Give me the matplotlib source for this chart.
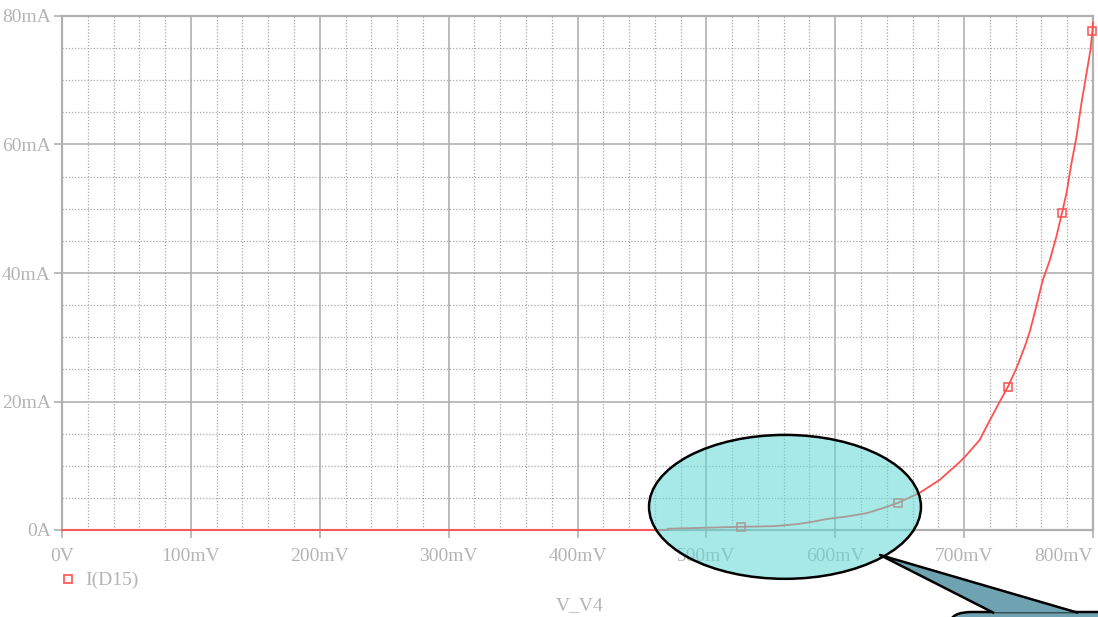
import matplotlib
matplotlib.use("Agg")
import matplotlib.pyplot as plt
from matplotlib.patches import Ellipse, Polygon, FancyBboxPatch
from matplotlib.ticker import MultipleLocator

# I(D15) vs V_V4 sweep, mV / mA
v_mV = [0, 470, 470, 527, 553, 570, 583, 593, 609, 624, 637, 649, 665.6, 681,
        696.7, 702, 712, 720, 727.7, 734, 740.6, 747, 751, 756, 761, 766.5,
        771.6, 776, 779.4, 783.3, 787.2, 791, 795, 798, 799.5, 800]
i_mA = [0, 0, 0.2, 0.5, 0.6, 0.9, 1.3, 1.7, 2.1, 2.6, 3.4, 4.25, 5.8, 7.8,
        10.6, 11.7, 14.0, 17.1, 20.0, 22.3, 25.2, 28.5, 30.9, 34.8, 38.9, 42.0,
        45.7, 49.4, 52.4, 57.1, 61.2, 66.4, 71.1, 74.7, 77.6, 79.0]
marker_idx = [3, 11, 19, 27, 34]

x_ticks = [0, 100, 200, 300, 400, 500, 600, 700, 800]
x_labels = ["0V", "100mV", "200mV", "300mV", "400mV", "500mV", "600mV", "700mV", "800mV"]
y_ticks = [0, 20, 40, 60, 80]
y_labels = ["0A", "20mA", "40mA", "60mA", "80mA"]

W, H = 1098, 617
grey = "#b0b0b0"
txt = "#b4b4b4"
red = "#ff5050"
font = "Liberation Serif"

fig = plt.figure(figsize=(W / 100, H / 100), dpi=100)
ax = fig.add_axes([62 / W, (H - 530) / H, (1093 - 62) / W, (530 - 16) / H])

ax.set_xlim(0, 800)
ax.set_ylim(0, 80)
ax.set_xticks(x_ticks)
ax.set_xticklabels(x_labels)
ax.set_yticks(y_ticks)
ax.set_yticklabels(y_labels)
ax.xaxis.set_minor_locator(MultipleLocator(20))
ax.yaxis.set_minor_locator(MultipleLocator(5))

ax.grid(True, which="major", color=grey, linewidth=1.2, linestyle="-")
ax.grid(True, which="minor", color="#a8a8a8", linewidth=0.9, linestyle=(0, (1, 1.5)))
ax.set_axisbelow(True)
for s in ax.spines.values():
    s.set_color(grey)
    s.set_linewidth(1.6)

ax.tick_params(which="major", length=6, width=1.2, color=grey, labelcolor=txt,
               labelsize=14)
ax.tick_params(axis="x", which="major", pad=7)
ax.tick_params(axis="y", which="major", pad=2)
ax.tick_params(which="minor", length=0)
for lab in ax.get_xticklabels() + ax.get_yticklabels():
    lab.set_fontfamily(font)
# keep the last x label inside the figure
ax.get_xticklabels()[-1].set_horizontalalignment("right")

ax.plot(v_mV, i_mA, color=red, linewidth=1.3, clip_on=False, zorder=3)
ax.plot([v_mV[k] for k in marker_idx], [i_mA[k] for k in marker_idx],
        linestyle="none", marker="s", markersize=6, markerfacecolor="none",
        markeredgecolor=red, markeredgewidth=1.1, clip_on=False, zorder=4)

# legend entry and x axis title below the plot
fig.lines.append(plt.Line2D([68 / W], [1 - 579 / H], transform=fig.transFigure,
                            marker="s", markersize=5.5, markerfacecolor="none",
                            markeredgecolor=red, markeredgewidth=1.2, linestyle="none"))
fig.text(85 / W, 1 - 580 / H, "I(D15)", color=txt, fontsize=14, family=font,
         va="center", ha="left")
fig.text(580 / W, 1 - 606 / H, "V_V4", color=txt, fontsize=14, family=font,
         va="center", ha="center")

# callout: highlight ellipse over the knee and a pointer box
ax.add_patch(Ellipse((561, 3.6), 211, 22.4, facecolor="#5fd8d2", alpha=0.55,
                     edgecolor="none", clip_on=False, zorder=5))
ax.add_patch(Ellipse((561, 3.6), 211, 22.4, facecolor="none", edgecolor="black",
                     linewidth=1.8, clip_on=False, zorder=6))


def fpx(x, y):
    return (x / W, 1 - y / H)


box = FancyBboxPatch(fpx(950, 640), 200 / W, 28 / H,
                     boxstyle="round,pad=0,rounding_size=0.02",
                     transform=fig.transFigure, facecolor="#6fa3b1",
                     edgecolor="black", linewidth=1.8, zorder=7)
fig.patches.append(box)
wedge = Polygon([fpx(880, 555), fpx(1077, 612.5), fpx(993, 612.5)], closed=True,
                transform=fig.transFigure, facecolor="#6fa3b1", edgecolor="none",
                zorder=8)
fig.patches.append(wedge)
fig.lines.append(plt.Line2D([993 / W, 880 / W, 1077 / W],
                            [1 - 612.5 / H, 1 - 555 / H, 1 - 612.5 / H],
                            transform=fig.transFigure, color="black",
                            linewidth=1.8, zorder=9))

fig.savefig("out.png", dpi=100)
